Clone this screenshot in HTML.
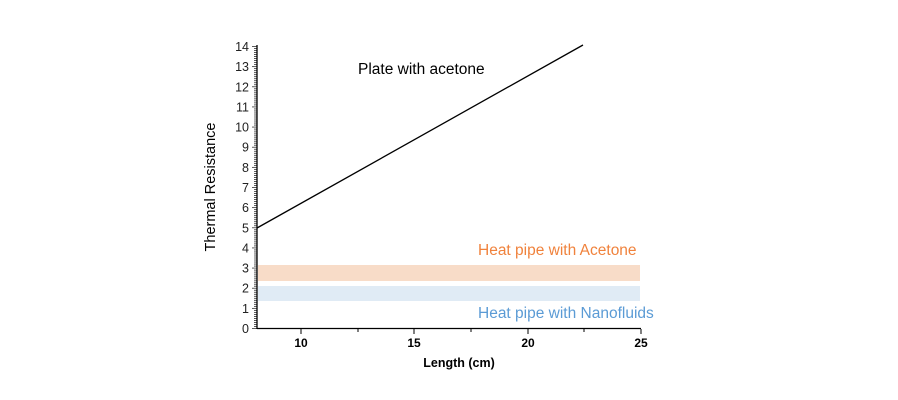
<!DOCTYPE html><html><head><style>body{margin:0;background:#fff}svg{display:block}</style></head><body>
<svg width="898" height="400" xmlns="http://www.w3.org/2000/svg" font-family="Liberation Sans, sans-serif">
<rect x="258" y="265" width="382" height="16" fill="#f8dcc8"/>
<rect x="258" y="286" width="382" height="15" fill="#e0ebf5"/>
<line x1="257" y1="228" x2="583" y2="45" stroke="#000" stroke-width="1.3"/>
<g id="yt" stroke="#333" stroke-width="0.8"></g>
<line x1="257" y1="45" x2="257" y2="329" stroke="#000" stroke-width="1.3"/>
<line x1="257" y1="328.5" x2="641" y2="328.5" stroke="#000" stroke-width="1.3"/>
<g stroke="#000" stroke-width="1"><line x1="301" y1="329" x2="301" y2="334"/><line x1="358" y1="329" x2="358" y2="332"/><line x1="414" y1="329" x2="414" y2="334"/><line x1="471" y1="329" x2="471" y2="332"/><line x1="528" y1="329" x2="528" y2="334"/><line x1="584" y1="329" x2="584" y2="332"/><line x1="641" y1="329" x2="641" y2="334"/></g>
<g font-size="12" font-weight="bold" text-anchor="middle" fill="#000"><text x="301" y="347">10</text><text x="414" y="347">15</text><text x="528" y="347">20</text><text x="641" y="347">25</text><text x="459" y="367" font-size="12.5">Length (cm)</text></g>
<g id="yl" font-size="12.5" text-anchor="end" fill="#222"></g>
<text transform="translate(215,187) rotate(-90)" font-size="14.5" text-anchor="middle" fill="#000">Thermal Resistance</text>
<text x="358" y="74" font-size="15.5" fill="#000">Plate with acetone</text>
<text x="478" y="255" font-size="15.5" fill="#f0823c">Heat pipe with Acetone</text>
<text x="478" y="318" font-size="15.5" fill="#5b9bd5">Heat pipe with Nanofluids</text>
<script>
var g=document.getElementById('yt'),l=document.getElementById('yl'),ns='http://www.w3.org/2000/svg';
for(var i=0;i<=140;i++){var y=328.5-i*282/140;var ln=document.createElementNS(ns,'line');var len=i%10==0?5:3;ln.setAttribute('x1',257-len);ln.setAttribute('x2',257);ln.setAttribute('y1',y);ln.setAttribute('y2',y);g.appendChild(ln);
if(i%10==0){var t=document.createElementNS(ns,'text');t.setAttribute('x',249);t.setAttribute('y',y+4.5);t.textContent=i/10;l.appendChild(t);}}
</script>
</svg></body></html>
